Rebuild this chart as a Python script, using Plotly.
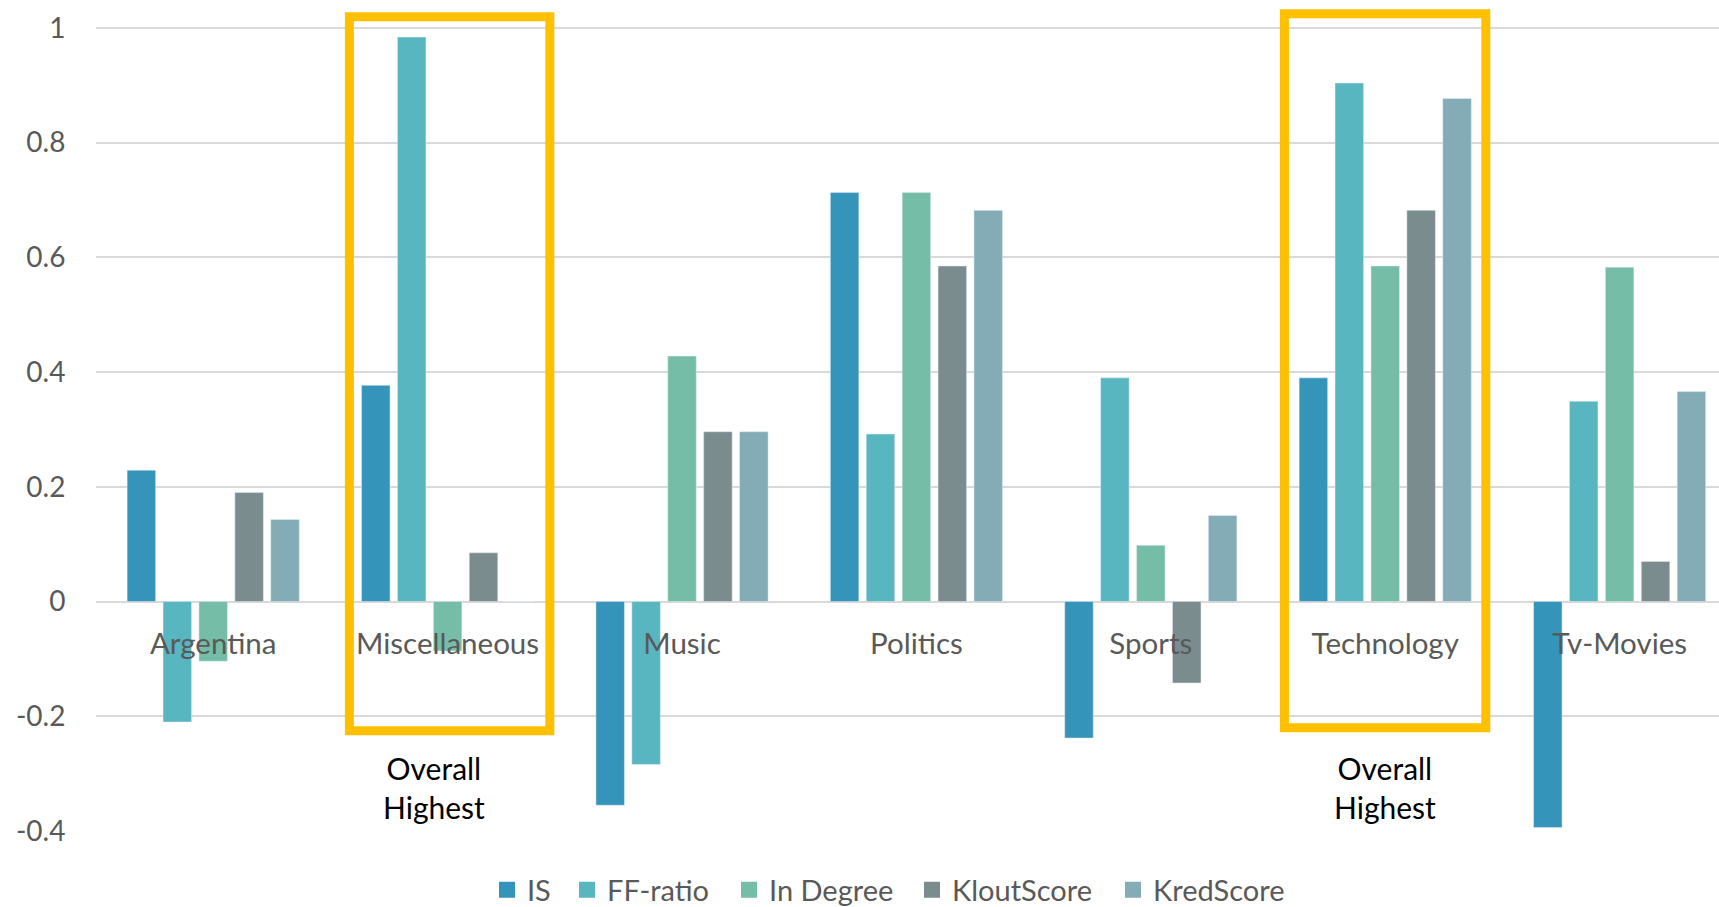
import plotly.graph_objects as go

categories = ["Argentina", "Miscellaneous", "Music", "Politics", "Sports", "Technology", "Tv-Movies"]
series_names = ["IS", "FF-ratio", "In Degree", "KloutScore", "KredScore"]
is_vals = [0.229, 0.377, -0.355, 0.713, -0.238, 0.390, -0.394]
ff_vals = [-0.210, 0.984, -0.284, 0.292, 0.390, 0.904, 0.349]
indeg_vals = [-0.104, -0.086, 0.428, 0.713, 0.098, 0.585, 0.583]
klout_vals = [0.190, 0.085, 0.296, 0.585, -0.142, 0.682, 0.070]
kred_vals = [0.143, 0.0, 0.296, 0.682, 0.150, 0.877, 0.366]
tick_vals = [-0.4, -0.2, 0, 0.2, 0.4, 0.6, 0.8, 1]
tick_text = ["-0.4", "-0.2", "0", "0.2", "0.4", "0.6", "0.8", "1"]
highlight_label = "Overall<br>Highest"

colors = ["#3494BA", "#58B6C0", "#75BDA7", "#7A8C8E", "#84ACB6"]
series_vals = [is_vals, ff_vals, indeg_vals, klout_vals, kred_vals]

FONT = "Lato"
W, H = 1719, 907
ML, MR, MT, MB = 96, 0, 5, 76
y_range = [-0.4, 1.04]
x_range = [-0.5, 6.424]

# legend entry left positions (px) for separate legends
legend_px = [487, 567, 729, 912, 1113]
legend_names = ["legend", "legend2", "legend3", "legend4", "legend5"]

fig = go.Figure()
for name, vals, col, lg in zip(series_names, series_vals, colors, legend_names):
    fig.add_trace(go.Bar(x=categories, y=vals, name=name, marker_color=col, showlegend=False))
    fig.add_trace(go.Scatter(x=[None], y=[None], mode="markers", name=name, legend=lg,
                             marker=dict(symbol="square", size=16, color=col), showlegend=True))

box_style = dict(type="rect", xref="x", yref="y", line=dict(color="#FFC000", width=9),
                 fillcolor="rgba(0,0,0,0)", layer="above")
fig.add_shape(x0=0.581, x1=1.436, y0=-0.2254, y1=1.0196, **box_style)
fig.add_shape(x0=4.570, x1=5.429, y0=-0.220, y1=1.0246, **box_style)

for xc in [0.944, 5.0]:
    fig.add_annotation(x=xc, y=-0.325, xref="x", yref="y", text=highlight_label,
                       showarrow=False, font=dict(family=FONT, size=30, color="#000000"),
                       yanchor="middle", xanchor="center")

zero_pos = (0 - y_range[0]) / (y_range[1] - y_range[0])
plot_w = W - ML - MR
plot_h = H - MT - MB
legend_y = -(890 - (MT + plot_h)) / plot_h

layout_legends = {}
for lg, px in zip(legend_names, legend_px):
    layout_legends[lg] = dict(orientation="h", x=(px - ML) / plot_w, xanchor="left",
                              y=legend_y, yanchor="middle", itemsizing="trace",
                              bgcolor="rgba(0,0,0,0)",
                              font=dict(family=FONT, size=29, color="#595959"))

fig.update_layout(
    width=W, height=H,
    margin=dict(l=ML, r=MR, t=MT, b=MB, autoexpand=False),
    paper_bgcolor="white", plot_bgcolor="white",
    barmode="group", bargap=0.234, bargroupgap=0.206,
    font=dict(family=FONT, size=28, color="#595959"),
    showlegend=True,
    xaxis=dict(range=x_range, anchor="free", position=zero_pos, showgrid=False, showline=False,
               zeroline=False, ticks="outside", ticklen=16, tickcolor="rgba(0,0,0,0)",
               tickfont=dict(family=FONT, size=29.5, color="#595959")),
    yaxis=dict(range=y_range, tickvals=tick_vals, ticktext=tick_text, showgrid=True,
               gridcolor="#D9D9D9", gridwidth=1.5, zeroline=True, zerolinecolor="#D9D9D9",
               zerolinewidth=1.5, showline=False, ticks="outside", ticklen=24,
               tickcolor="rgba(0,0,0,0)", tickfont=dict(family=FONT, size=28, color="#595959")),
    **layout_legends,
)

fig.write_html("out.html")
